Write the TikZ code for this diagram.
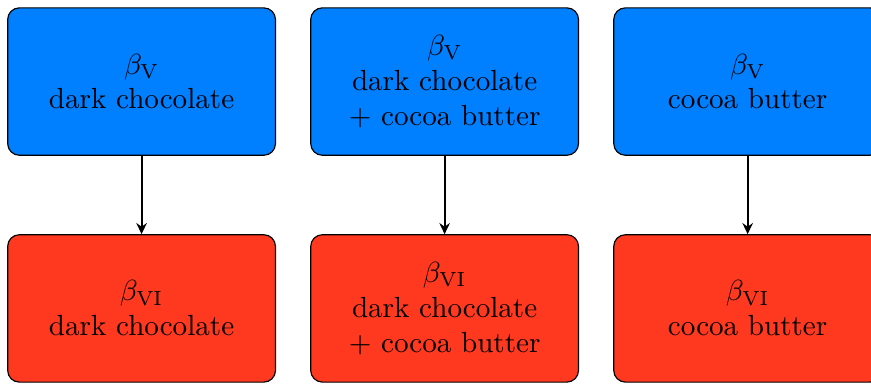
\documentclass[tikz,border=0pt]{standalone}
\usepackage{tikz}
\usetikzlibrary{shapes.geometric, arrows.meta}
\definecolor{phaseblue}{RGB}{0,127,255}
\definecolor{phasered}{RGB}{255,57,32}
\tikzstyle{bluerectround} = [rectangle, rounded corners,
minimum width=3.17cm, 
minimum height=1.78cm, 
text centered, 
text width=3cm, 
draw=black, fill=phaseblue]
\tikzstyle{redrectround} = [rectangle, rounded corners,
minimum width=3.17cm, 
minimum height=1.78cm, 
text centered, 
text width=3cm, 
draw=black, fill=phasered]
\usepackage{xcolor}
\usepackage{amsmath}

\begin{document}
\begin{tikzpicture}[node distance=3.66cm]
		\useasboundingbox (0,0) rectangle (10.52,-4.65);
		\node (darkV) [bluerectround] at (1.71,-0.985) {$\beta_{\text{V}}$\\dark chocolate};
		\node (mixV) [bluerectround, right of=darkV] {$\beta_{\text{V}}$\\dark chocolate\\+ cocoa butter};
		\node (butterV) [bluerectround, right of=mixV] {$\beta_{\text{V}}$\\cocoa butter};
		
		\node (darkVI) [redrectround, below of=darkV, yshift=0.92cm] {$\beta_{\text{VI}}$\\dark chocolate};
		\node (mixVI) [redrectround, below of=mixV, yshift=0.92cm] {$\beta_{\text{VI}}$\\dark chocolate\\+ cocoa butter};
		\node (butterVI) [redrectround, below of=butterV, yshift=0.92cm] {$\beta_{\text{VI}}$\\cocoa butter};
		
		\draw [-{Stealth[length=3.8pt, width=3.6pt]}, line width=0.7pt](darkV) -- (darkVI);
		\draw [-{Stealth[length=3.8pt, width=3.6pt]}, line width=0.7pt](mixV) -- (mixVI);
		\draw [-{Stealth[length=3.8pt, width=3.6pt]}, line width=0.7pt](butterV) -- (butterVI);
	\end{tikzpicture}
\end{document}
